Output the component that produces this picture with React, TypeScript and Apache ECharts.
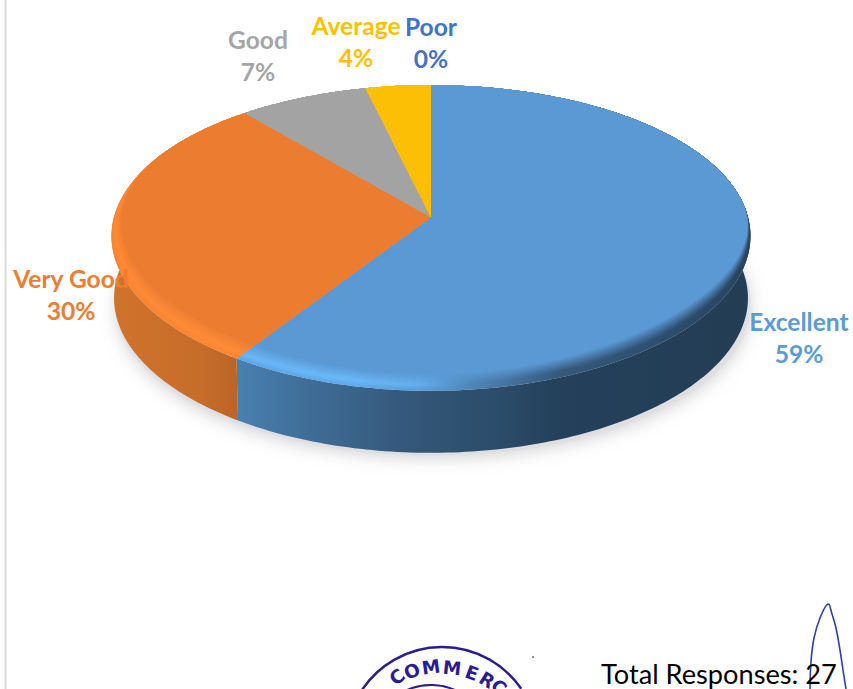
import React, { useEffect, useRef } from "react";
import * as echarts from "echarts";

const categories = ["Excellent", "Very Good", "Good", "Average", "Poor"];
const responses = [16, 8, 2, 1, 0];
const faceColors = ["#5a99d4", "#eb7c30", "#a3a3a3", "#fcbf05", "#4472c4"];
const labelColors = ["#5b9bd5", "#ed7d31", "#a5a5a5", "#ffc000", "#4472c4"];
const labelCenters = [[799, 321], [71, 278], [258, 39], [356, 25], [431, 26]];
const footerText = "Total Responses: 27";
const stampLetters = ["C", "O", "M", "M", "E", "R", "C"];
const stampSpots = [[397, 677, -38], [412, 671, -24], [431, 667, -8], [452, 668, 6], [472, 673, 20], [487, 680, 32], [499, 687, 42]];

const W = 853, H = 689;
const CX = 431, CY = 217, A = 317, B = 150, KX = 0.125, KY = 0.137, THICK = 62;
const total = responses.reduce((a, b) => a + b, 0);

const rimPoint = (t: number, r: number, dy = 0, sx = 1) => {
  const u = r * Math.sin(t), v = -r * Math.cos(t);
  return [CX + (sx * A * u) / (1 - KX * v), CY + (B * v) / (1 - KY * v) + dy];
};
const spanOf = (i: number) => {
  const before = responses.slice(0, i).reduce((a, b) => a + b, 0);
  return [(before / total) * 2 * Math.PI, ((before + responses[i]) / total) * 2 * Math.PI];
};
const arcPoints = (t0: number, t1: number, radius: (t: number) => number, dy = 0, sx = 1) => {
  const n = Math.max(2, Math.ceil(((t1 - t0) * 180) / Math.PI));
  const out: number[][] = [];
  for (let j = 0; j <= n; j++) {
    const t = t0 + ((t1 - t0) * j) / n;
    out.push(rimPoint(t, radius(t), dy, sx));
  }
  return out;
};
const hGrad = (stops: [number, string][]) => {
  const x0 = 112, x1 = 752;
  return new echarts.graphic.LinearGradient(x0, 0, x1, 0,
    stops.map(([x, color]) => ({ offset: (x - x0) / (x1 - x0), color })), true);
};
const sideFill: any = [
  () => hGrad([[235, "#4a80b2"], [300, "#406f9a"], [400, "#35597c"], [500, "#2b4c6a"], [560, "#24405a"], [752, "#233d54"]]),
  () => hGrad([[112, "#d0732c"], [200, "#c66d2a"], [245, "#b96326"]]),
  () => "#7a7a7a",
  () => "#b08a05",
  () => "#30508a",
];
const mix = (a: string, b: string, f: number) => {
  const p = (s: string, i: number) => parseInt(s.slice(i, i + 2), 16);
  const c = [1, 3, 5].map((i) => Math.round(p(a, i) + (p(b, i) - p(a, i)) * f));
  return "rgb(" + c.join(",") + ")";
};
const bevelStops: [number, string][][] = [
  [[235, "#5da6e6"], [350, "#5fa9ea"], [420, "#5a9cd8"], [470, "#4f86b8"], [560, "#35597c"], [680, "#2c4c6b"], [752, "#27435e"]],
  [[112, "#f9842f"], [245, "#f98632"]],
  [[112, "#a5a5a5"], [752, "#a5a5a5"]],
  [[112, "#fcbf05"], [752, "#fcbf05"]],
  [[112, "#4472c4"], [752, "#4472c4"]],
];
const brightStops: [number, string][][] = [
  [[235, "#6ab6f8"], [350, "#6ab8fa"], [420, "#62aeee"], [470, "#4f86b8"], [560, "#35597c"], [680, "#2c4c6b"], [752, "#27435e"]],
  [[112, "#ff8a36"], [245, "#ff8c38"]],
  ...bevelStops.slice(2),
];
const LAYERS = 12;
const bevelRadius = (t: number, f: number) => {
  const v = -Math.cos(t);
  const rightSide = Math.sin(t) > 0;
  const start = rightSide ? -0.12 : -0.5;
  let s = (v - start) / (0.9 - start);
  s = Math.max(0, Math.min(1, s));
  s = s * s * (3 - 2 * s);
  return 1 - 0.085 * f * s;
};

const renderSide = (params: any) => {
  const i = params.dataIndex;
  const [t0, t1] = spanOf(i);
  if (t1 <= t0) return { type: "group", children: [] };
  const top = arcPoints(t0, t1, () => 1);
  const bottom = arcPoints(t0, t1, () => 1, THICK, 0.992).reverse();
  return { type: "polygon", shape: { points: top.concat(bottom) }, style: { fill: sideFill[i]() }, silent: true };
};

const renderTop = (params: any) => {
  const i = params.dataIndex;
  const [t0, t1] = spanOf(i);
  if (t1 <= t0) return { type: "group", children: [] };
  const children: any[] = [];
  for (let k = 0; k <= LAYERS; k++) {
    const f = k / LAYERS;
    const pts = [[CX, CY]].concat(arcPoints(t0, t1, (t) => bevelRadius(t, f)));
    const stops = bevelStops[i].map(([x, c], n) => {
      const bright = brightStops[i][n][1];
      const edge = f < 0.3 ? mix(c, bright, f / 0.3) : mix(bright, faceColors[i], (f - 0.3) / 0.7);
      return [x, edge] as [number, string];
    });
    const fill = k === LAYERS ? faceColors[i] : hGrad(stops);
    children.push({ type: "polygon", shape: { points: pts }, style: { fill }, silent: true });
  }
  return { type: "group", children };
};

const renderLabel = (params: any) => {
  const i = params.dataIndex;
  const [x, y] = labelCenters[i];
  const font = "700 24.6px Lato, sans-serif";
  const pct = Math.round((responses[i] / total) * 100) + "%";
  return {
    type: "group",
    children: [
      { type: "text", style: { text: categories[i], x, y, align: "center", verticalAlign: "middle", font, fill: labelColors[i] }, silent: true },
      { type: "text", style: { text: pct, x, y: y + 32, align: "center", verticalAlign: "middle", font, fill: labelColors[i] }, silent: true },
    ],
  };
};

const INK = "#2a1c94";

export default function App() {
  const ref = useRef<HTMLDivElement>(null);
  useEffect(() => {
    const chart = echarts.init(ref.current!, null, { renderer: "svg", width: W, height: H });
    const rows = categories.map((c, i) => ({ name: c, value: [i, responses[i]] }));
    const pieSeries = (render: any, z: number) => ({
      type: "custom", coordinateSystem: "none", renderItem: render, data: rows, z, silent: true, animation: false,
    });
    chart.setOption({
      animation: false,
      backgroundColor: "#ffffff",
      graphic: [
        { type: "rect", shape: { x: 4.5, y: 0, width: 2, height: H }, style: { fill: "#d9d9d9" }, z: 0 },
        {
          type: "ellipse", shape: { cx: 433, cy: 304, rx: 318, ry: 152 },
          style: { fill: "rgba(222,222,225,0.7)", shadowBlur: 16, shadowOffsetY: 3, shadowColor: "rgba(190,190,195,0.9)" }, z: 0,
        },
        { type: "arc", shape: { cx: 442, cy: 743, r: 96, startAngle: -2.55, endAngle: -0.6 }, style: { stroke: INK, fill: "none", lineWidth: 2.5 }, z: 5 },
        { type: "arc", shape: { cx: 431, cy: 745, r: 60, startAngle: -2.1, endAngle: -1.0 }, style: { stroke: INK, fill: "none", lineWidth: 2 }, z: 5 },
        ...stampLetters.map((ch, i) => ({
          type: "text", z: 5, x: stampSpots[i][0], y: stampSpots[i][1], rotation: (-stampSpots[i][2] * Math.PI) / 180,
          style: { text: ch, x: 0, y: 0, align: "center", verticalAlign: "middle", font: "700 18.5px 'DejaVu Sans', sans-serif", fill: INK },
        })),
        { type: "circle", shape: { cx: 533, cy: 657, r: 1 }, style: { fill: "#777777" }, z: 5 },
        {
          type: "polyline", z: 5,
          shape: { points: [[810, 689], [811, 662], [814, 638], [820, 618], [828, 604], [832, 614], [836, 628], [840, 650], [843, 670], [846, 689]], smooth: 0.4 },
          style: { stroke: "#2f3fae", fill: "none", lineWidth: 1.6 },
        },
        {
          type: "text", z: 6,
          style: { text: footerText, x: 601, y: 673, align: "left", verticalAlign: "middle", font: "400 27.2px Lato, sans-serif", fill: "#000000" },
        },
      ],
      series: [pieSeries(renderSide, 2), pieSeries(renderTop, 3), pieSeries(renderLabel, 4)],
    });
    return () => chart.dispose();
  }, []);
  return <div ref={ref} style={{ position: "absolute", left: 0, top: 0, width: W, height: H }} />;
}
